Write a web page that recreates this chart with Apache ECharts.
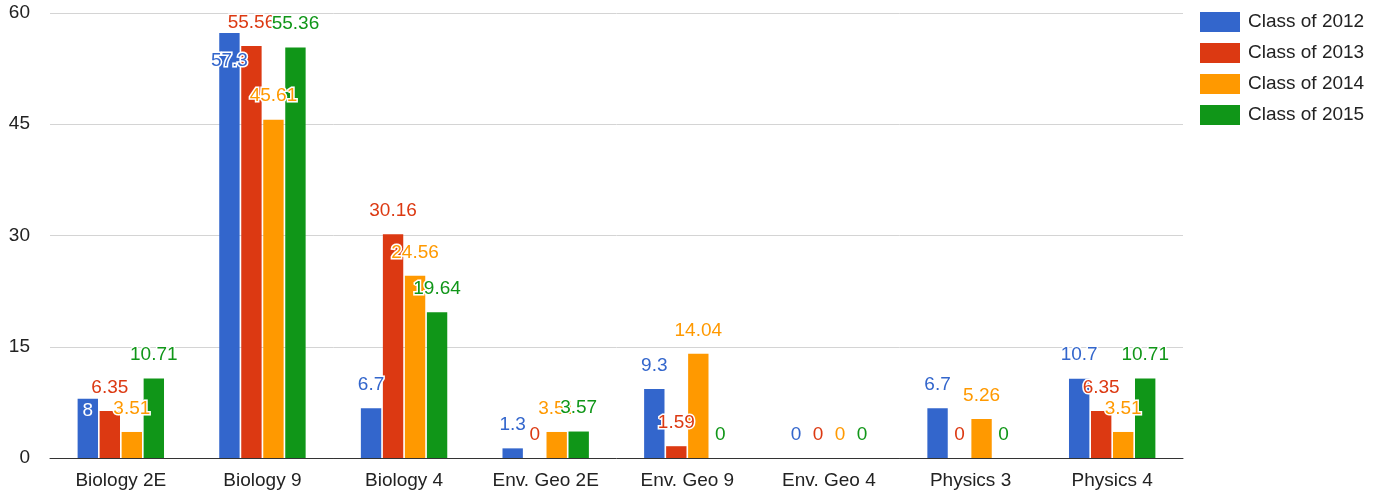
<!DOCTYPE html>
<html>
<head>
<meta charset="utf-8">
<script src="https://cdn.jsdelivr.net/npm/echarts@6/dist/echarts.min.js"></script>
<style>
  html, body { margin: 0; padding: 0; background: #fff; }
  #main { width: 1382px; height: 495px; }
</style>
</head>
<body>
<div id="main"></div>
<script>
// categories and values per class
var courses = ['Biology 2E', 'Biology 9', 'Biology 4', 'Env. Geo 2E', 'Env. Geo 9', 'Env. Geo 4', 'Physics 3', 'Physics 4']
var class2012 = [8, 57.3, 6.7, 1.3, 9.3, 0, 6.7, 10.7]
var class2013 = [6.35, 55.56, 30.16, 0, 1.59, 0, 0, 6.35]
var class2014 = [3.51, 45.61, 24.56, 3.51, 14.04, 0, 5.26, 3.51]
var class2015 = [10.71, 55.36, 19.64, 3.57, 0, 0, 0, 10.71]
var yTicks = [0, 15, 30, 45, 60]

var names = ['Class of 2012', 'Class of 2013', 'Class of 2014', 'Class of 2015']
var colors = ['#3366cc', '#dc3912', '#ff9900', '#109618']
var values = [class2012, class2013, class2014, class2015]

// labels that sit inside the bar in the original
var insideLabels = { '0-0': { distance: 3, color: '#fff', textBorderColor: '#3366cc' }, '0-1': { distance: 18 } }

var myChart = echarts.init(document.getElementById('main'))

var series = values.map(function (arr, si) {
  return {
    name: names[si],
    type: 'bar',
    barGap: '8%',
    barCategoryGap: '39%',
    itemStyle: { color: colors[si] },
    label: {
      show: true,
      position: 'top',
      distance: 14,
      fontFamily: 'Liberation Sans, Arial, sans-serif',
      fontSize: 19,
      color: colors[si],
      textBorderColor: '#fff',
      textBorderWidth: 3
    },
    data: arr.map(function (v, i) {
      var tweak = insideLabels[si + '-' + i]
      if (!tweak) return v
      return { value: v, label: Object.assign({ position: 'insideTop' }, tweak) }
    })
  }
})

var option = {
  animation: false,
  textStyle: { fontFamily: 'Liberation Sans, Arial, sans-serif' },
  grid: { left: 50, right: 199, top: 13, bottom: 37 },
  legend: {
    orient: 'vertical',
    left: 1200,
    top: 12,
    padding: 0,
    itemWidth: 40,
    itemHeight: 20,
    itemGap: 11,
    icon: 'rect',
    textStyle: { fontSize: 19, color: '#222', padding: [0, 0, 0, 3] },
    data: names
  },
  xAxis: {
    type: 'category',
    data: courses,
    axisTick: { show: false },
    axisLine: { lineStyle: { color: '#333', width: 1 } },
    axisLabel: { fontSize: 19, color: '#222', margin: 13 }
  },
  yAxis: {
    type: 'value',
    min: yTicks[0],
    max: yTicks[yTicks.length - 1],
    interval: 15,
    axisLine: { show: false },
    axisTick: { show: false },
    splitLine: { lineStyle: { color: '#d4d4d4' } },
    axisLabel: { fontSize: 19, color: '#222', margin: 20 }
  },
  series: series
}

myChart.setOption(option)
</script>
</body>
</html>
